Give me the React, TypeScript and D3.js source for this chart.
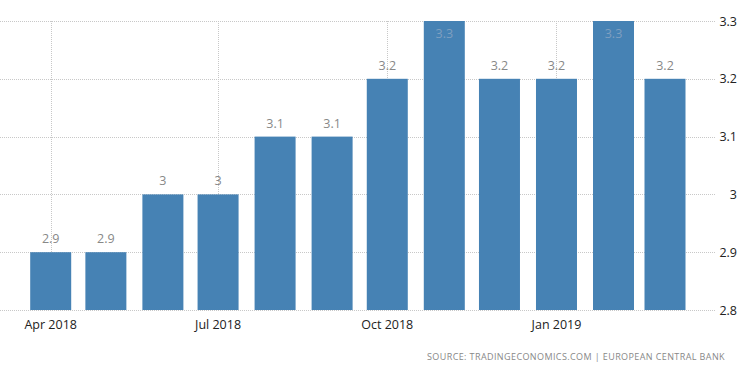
import React, { useEffect, useRef } from "react";
import * as d3 from "d3";

const months = ["2018-04-01", "2018-05-01", "2018-06-01", "2018-07-01", "2018-08-01", "2018-09-01",
  "2018-10-01", "2018-11-01", "2018-12-01", "2019-01-01", "2019-02-01", "2019-03-01"];
const values = [2.9, 2.9, 3, 3, 3.1, 3.1, 3.2, 3.3, 3.2, 3.2, 3.3, 3.2];
const yTicks = [2.8, 2.9, 3, 3.1, 3.2, 3.3];
const xTicks = ["2018-04-01", "2018-07-01", "2018-10-01", "2019-01-01"];
const SOURCE = "SOURCE: TRADINGECONOMICS.COM | EUROPEAN CENTRAL BANK";

const W = 750;
const H = 373;
const BAR = "#4682B4";
const FONT = "'Open Sans', 'DejaVu Sans', sans-serif";

export default function App() {
  const svgRef = useRef<SVGSVGElement>(null);

  useEffect(() => {
    const svg = d3.select(svgRef.current);
    svg.selectAll("*").remove();

    const parse = d3.utcParse("%Y-%m-%d");
    const data = months.map((m, i) => ({ date: parse(m) as Date, value: values[i] }));

    const x = d3.scaleUtc()
      .domain([parse(months[0]) as Date, parse(months[months.length - 1]) as Date])
      .range([50.7, 665]);
    const y = d3.scaleLinear().domain([2.8, 3.3]).range([310, 21]);
    const barW = 41;

    // horizontal dotted grid
    svg.append("g").selectAll("line").data(yTicks).join("line")
      .attr("x1", 0).attr("x2", 716)
      .attr("y1", d => Math.round(y(d)) + 0.5).attr("y2", d => Math.round(y(d)) + 0.5)
      .attr("stroke", "#c8c8c8").attr("stroke-width", 1).attr("stroke-dasharray", "1 1");

    // vertical dotted grid
    svg.append("g").selectAll("line").data(xTicks).join("line")
      .attr("x1", d => Math.round(x(parse(d) as Date)) + 0.5)
      .attr("x2", d => Math.round(x(parse(d) as Date)) + 0.5)
      .attr("y1", 21).attr("y2", 310)
      .attr("stroke", "#c8c8c8").attr("stroke-width", 1).attr("stroke-dasharray", "1 1");

    // bars
    svg.append("g").selectAll("rect").data(data).join("rect")
      .attr("x", d => x(d.date) - barW / 2)
      .attr("y", d => y(d.value))
      .attr("width", barW)
      .attr("height", d => y(2.8) - y(d.value))
      .attr("fill", BAR);

    // value labels (pushed inside the bar when there is no room above)
    const inside = (v: number) => y(v) - 12 < 21;
    svg.append("g").selectAll("text").data(data).join("text")
      .attr("x", d => x(d.date))
      .attr("y", d => (inside(d.value) ? y(d.value) + 17 : y(d.value) - 9))
      .attr("text-anchor", "middle")
      .attr("fill", d => (inside(d.value) ? "#7f9fc0" : "#888"))
      .style("font-family", FONT)
      .style("font-size", "12.5px")
      .text(d => d3.format("")(d.value));

    // x axis labels
    svg.append("g").selectAll("text").data(xTicks).join("text")
      .attr("x", d => x(parse(d) as Date))
      .attr("y", 329)
      .attr("text-anchor", "middle")
      .attr("fill", "#222")
      .style("font-family", FONT)
      .style("font-size", "12.5px")
      .text(d => d3.utcFormat("%b %Y")(parse(d) as Date));

    // y axis labels (right)
    svg.append("g").selectAll("text").data(yTicks).join("text")
      .attr("x", 737)
      .attr("y", d => y(d) + 4.5)
      .attr("text-anchor", "end")
      .attr("fill", "#222")
      .style("font-family", FONT)
      .style("font-size", "12.5px")
      .text(d => d3.format("")(d));

    // source
    svg.append("text")
      .attr("x", 725)
      .attr("y", 360)
      .attr("text-anchor", "end")
      .attr("fill", "#888")
      .style("font-family", FONT)
      .style("font-size", "9px")
      .style("letter-spacing", "0.4px")
      .text(SOURCE);
  }, []);

  return (
    <div style={{ position: "fixed", left: 0, top: 0, width: W, height: H, background: "#fff" }}>
      <svg ref={svgRef} width={W} height={H} style={{ display: "block" }} />
    </div>
  );
}
